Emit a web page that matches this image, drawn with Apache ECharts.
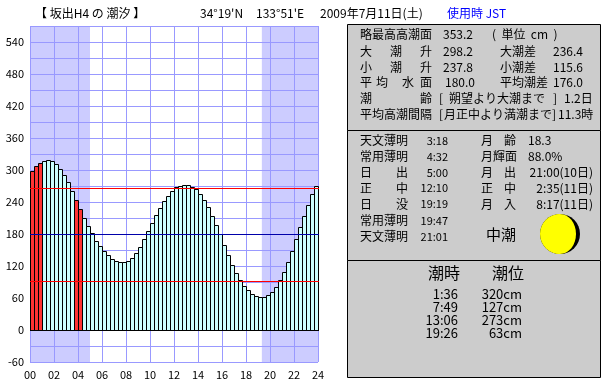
<!DOCTYPE html>
<html>
<head>
<meta charset="utf-8">
<style>
html, body { margin: 0; padding: 0; background: #fff; }
#chart { width: 610px; height: 385px; }
</style>
<script src="https://cdn.jsdelivr.net/npm/echarts@6/dist/echarts.min.js"></script>
</head>
<body>
<div id="chart"></div>
<script>
// tide height every 20 minutes, 00:00 - 24:00
const tide = [
  299, 307, 313, 317, 319, 317, 311, 302, 290, 277, 261, 244,
  227, 210, 195, 181, 167, 157, 149, 140, 133, 129, 127, 127,
  129, 135, 144, 155, 170, 185, 200, 215, 229, 242, 252, 260,
  268, 270, 272, 272, 269, 265, 255, 244, 230, 214, 197, 180,
  159, 140, 122, 107, 93, 83, 75, 68, 64, 62, 62, 66,
  71, 81, 94, 109, 128, 148, 170, 193, 214, 235, 255, 270
];
const redBars = [0, 1, 2, 11, 12];
const nightSpans = [[0, 5], [19.32, 24]];
const refLevels = [0, 266, 180, 92];
const refColors = ['#000000', '#FF0000', '#0000AA', '#FF0000'];

const titleTexts = ['【 坂出H4 の 潮汐 】', "34°19'N", "133°51'E", '2009年7月11日(土)'];
const titleX = [35, 200, 256, 320];
const timeZone = '使用時 JST';

// top panel
const datumNames = ['略最高高潮面', '大', '潮', '升', '小', '潮', '升', '平', '均', '水', '面', '潮', '齢', '平均高潮間隔'];
const datumNameX = [360, 360, 390, 420, 360, 390, 420, 360, 376, 402, 420, 360, 420, 360];
const datumNameRow = [0, 1, 1, 1, 2, 2, 2, 3, 3, 3, 3, 4, 4, 5];
const datumValues = ['353.2', '298.2', '237.8', '180.0'];
const rangeNames = ['(  単位  cm  )', '大潮差', '小潮差', '平均潮差'];
const rangeValues = ['', '236.4', '115.6', '176.0'];
const ageNotes = ['[', '朔望より大潮まで', ']', '1.2日'];
const ageNoteX = [439, 449, 553, 564];
const intervalNotes = ['[', '月正中より満潮まで', ']', '11.3時'];
const intervalNoteX = [439, 444, 552, 558];

// middle panel
const sunNames = ['天文薄明', '常用薄明', ['日', '出'], ['正', '中'], ['日', '没'], '常用薄明', '天文薄明'];
const sunTimes = ['3:18', '4:32', '5:00', '12:10', '19:19', '19:47', '21:01'];
const moonNames = [['月', '齢'], '月輝面', ['月', '出'], ['正', '中'], ['月', '入']];
const moonValues = ['18.3', '88.0%', '21:00(10日)', '2:35(11日)', '8:17(11日)'];
const tideName = '中潮';

// bottom panel
const tideHeaders = ['潮時', '潮位'];
const tideTimes = ['1:36', '7:49', '13:06', '19:26'];
const tideLevels = ['320cm', '127cm', '273cm', '63cm'];

const slots = [];
for (let i = 0; i < tide.length; i++) {
  slots.push(String(i));
}

const font = '"Noto Sans CJK JP", sans-serif';

function label(text, x, y, opt) {
  opt = opt || {};
  return {
    type: 'text', x: x, y: y, z: 20,
    style: {
      text: text,
      fill: opt.fill || '#000',
      font: (opt.size || 12) + 'px ' + font,
      textAlign: opt.align || 'left',
      textVerticalAlign: 'middle'
    }
  };
}

function panel(y, h) {
  return {
    type: 'rect', z: 10,
    shape: { x: 347.5, y: y + 0.5, width: 253, height: h },
    style: { fill: '#CCCCCC', stroke: '#000', lineWidth: 1 }
  };
}

const gfx = [panel(24, 106), panel(130, 130), panel(260, 117)];

titleTexts.forEach(function (t, i) {
  gfx.push(label(t, titleX[i], 13));
});
gfx.push(label(timeZone, 447, 13, { fill: '#0000FF' }));

const topRows = [34, 51, 67, 82.5, 98.7, 114.7];
datumNames.forEach(function (t, i) {
  gfx.push(label(t, datumNameX[i], topRows[datumNameRow[i]]));
});
datumValues.forEach(function (t, i) {
  gfx.push(label(t, i === 3 ? 445 : 443, topRows[i]));
});
rangeNames.forEach(function (t, i) {
  gfx.push(label(t, i === 0 ? 492 : 500, topRows[i]));
});
rangeValues.forEach(function (t, i) {
  gfx.push(label(t, 553, topRows[i]));
});
ageNotes.forEach(function (t, i) {
  gfx.push(label(t, ageNoteX[i], topRows[4]));
});
intervalNotes.forEach(function (t, i) {
  gfx.push(label(t, intervalNoteX[i], topRows[5]));
});

const midRows = [140.7, 156.7, 172.7, 188.3, 204.3, 220.7, 236.7];
function nameCell(name, x, gapX, y) {
  if (Array.isArray(name)) {
    gfx.push(label(name[0], x, y));
    gfx.push(label(name[1], gapX, y));
  } else {
    gfx.push(label(name, x, y));
  }
}
sunNames.forEach(function (n, i) {
  nameCell(n, 360, 396, midRows[i]);
  gfx.push(label(sunTimes[i], 448, midRows[i], { size: 11, align: 'right' }));
});
moonNames.forEach(function (n, i) {
  nameCell(n, 481, 504, midRows[i]);
  if (i < 2) {
    gfx.push(label(moonValues[i], 528, midRows[i]));
  } else {
    gfx.push(label(moonValues[i], 593, midRows[i], { align: 'right' }));
  }
});
gfx.push(label(tideName, 486, 234, { size: 15 }));

// moon: black disc, lit part on top of it
gfx.push({ type: 'circle', z: 11, shape: { cx: 560, cy: 234, r: 20 }, style: { fill: '#000' } });
gfx.push({ type: 'sector', z: 12, shape: { cx: 560, cy: 234, r: 20, startAngle: Math.PI / 2, endAngle: Math.PI * 1.5 }, style: { fill: '#FFFF00' } });
gfx.push({ type: 'ellipse', z: 12, shape: { cx: 560, cy: 234, rx: 16, ry: 20 }, style: { fill: '#FFFF00' } });

gfx.push(label(tideHeaders[0], 428, 273, { size: 16 }));
gfx.push(label(tideHeaders[1], 492, 273, { size: 16 }));
const lowRows = [294.3, 306.7, 320, 333.3];
tideTimes.forEach(function (t, i) {
  gfx.push(label(t, 458, lowRows[i], { size: 13, align: 'right' }));
  gfx.push(label(tideLevels[i], 522, lowRows[i], { size: 13, align: 'right' }));
});

// bars drawn by hand so the 1px outline lands on whole pixels
function renderBar(params, api) {
  const i = api.value(0);
  const top = api.coord([i, api.value(1)]);
  const base = api.coord([i, 0]);
  const w = api.size([1, 0])[0];
  const x = Math.round(top[0] - w / 2) + 0.5;
  const y = Math.round(top[1]) + 0.5;
  return {
    type: 'rect',
    shape: { x: x, y: y, width: w, height: Math.round(base[1]) + 0.5 - y },
    style: { fill: redBars.indexOf(i) >= 0 ? '#FF3333' : '#CCFFFF', stroke: '#000', lineWidth: 1 }
  };
}

function renderRef(params, api) {
  const left = api.coord([0, api.value(0)]);
  const right = api.coord([24, api.value(0)]);
  const y = Math.round(left[1]) + 0.5;
  return {
    type: 'line',
    shape: { x1: left[0], y1: y, x2: right[0] + 1, y2: y },
    style: { stroke: refColors[params.dataIndex], lineWidth: 1 }
  };
}

const gridLine = { show: true, lineStyle: { color: '#9999FF', width: 1, type: 'solid' } };

const option = {
  animation: false,
  backgroundColor: '#fff',
  grid: { left: 30, top: 26, width: 288, height: 336, containLabel: false },
  xAxis: [
    {
      type: 'category', data: slots, show: false, boundaryGap: true, z: 2
    },
    {
      type: 'value', min: 0, max: 24, interval: 2, position: 'bottom', z: 2,
      axisLine: { show: false }, axisTick: { show: false },
      splitLine: gridLine,
      axisLabel: {
        margin: 7, color: '#000', fontFamily: font, fontSize: 11,
        formatter: function (v) { return v < 10 ? '0' + v : String(v); }
      }
    }
  ],
  yAxis: {
    type: 'value', min: -60, max: 570, interval: 30, z: 2,
    axisLine: { show: false }, axisTick: { show: false },
    splitLine: gridLine,
    axisLabel: {
      margin: 6, color: '#000', fontFamily: font, fontSize: 11,
      showMaxLabel: false,
      formatter: function (v) { return v % 60 === 0 ? String(v) : ''; }
    }
  },
  series: [
    {
      type: 'line', xAxisIndex: 1, data: [], silent: true,
      markArea: {
        silent: true,
        itemStyle: { color: '#CCCCFF', opacity: 1 },
        data: nightSpans.map(function (s) {
          return [{ xAxis: s[0] }, { xAxis: s[1] }];
        })
      }
    },
    {
      type: 'custom', xAxisIndex: 0, z: 3, silent: true, clip: false,
      encode: { x: 0, y: 1 },
      data: tide.map(function (v, i) { return [i, v]; }),
      renderItem: renderBar
    },
    {
      type: 'custom', xAxisIndex: 1, z: 4, silent: true, clip: false,
      encode: { y: 0 },
      data: refLevels.map(function (v) { return [v]; }),
      renderItem: renderRef
    }
  ],
  graphic: gfx
};

const chart = echarts.init(document.querySelector('#chart'), null, { renderer: 'canvas' });
chart.setOption(option);
window.onresize = function () {
  chart.resize();
};
</script>
</body>
</html>
